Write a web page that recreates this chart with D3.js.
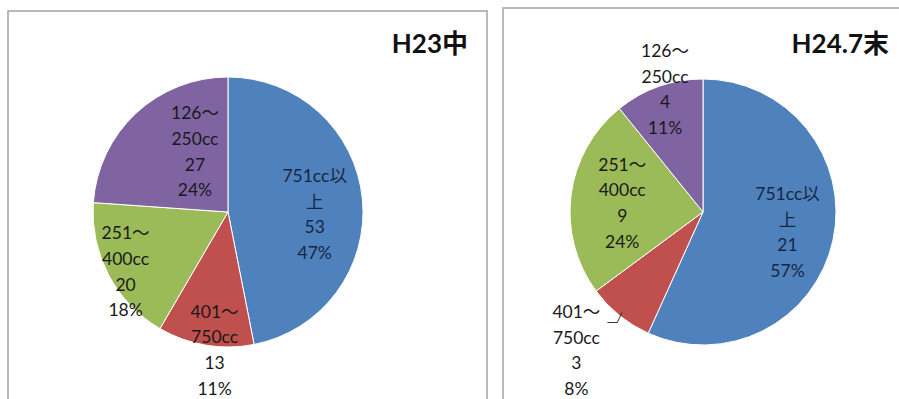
<!DOCTYPE html>
<html>
<head>
<meta charset="utf-8">
<script src="https://cdn.jsdelivr.net/npm/d3@7"></script>
<style>
  html, body { margin: 0; padding: 0; background: #fff; }
  svg { display: block; }
</style>
</head>
<body>
<svg id="chart" width="899" height="399"></svg>
<script>
// ---- data ----
const categories = ["751cc以上", "401～750cc", "251～400cc", "126～250cc"];
const titles = ["H23中", "H24.7末"];
const valuesH23 = [53, 13, 20, 27];
const valuesH24 = [21, 3, 9, 4];
const pctH23 = ["47%", "11%", "18%", "24%"];
const pctH24 = ["57%", "8%", "24%", "11%"];
const colors = ["#4F81BD", "#C0504D", "#9BBB59", "#8064A2"];

// ---- layout ----
const panels = [
  { title: titles[0], values: valuesH23, pct: pctH23,
    box: { x: 8, y: 11, w: 479, h: 420 }, cx: 228, cy: 212, r: 135, titleX: 468,
    lab: [{ k: 0.66, dx: -2, dy: 11 }, { k: 1.0, dx: 9, dy: 5 }, { k: 0.85, dx: -1, dy: 6 }, { k: 0.5, dx: 13, dy: -11 }],
    leader: [] },
  { title: titles[1], values: valuesH24, pct: pctH24,
    box: { x: 503, y: 8, w: 420, h: 420 }, cx: 703, cy: 212, r: 133, titleX: 889,
    lab: [{ k: 0.65, dx: 0, dy: 2 }, { k: 1.3, dx: -18, dy: 4 }, { k: 0.62, dx: 1, dy: 1.5 }, { k: 0.97, dx: 5, dy: -1 }],
    leader: [1] }
];

const svg = d3.select("#chart");
const lineH = 25.7;

function wrap(s) {
  const i = s.indexOf("～");
  if (i >= 0) return [s.slice(0, i + 1), s.slice(i + 1)];
  return [s.slice(0, -1), s.slice(-1)];
}

panels.forEach(p => {
  const g = svg.append("g");
  g.append("rect")
    .attr("x", p.box.x).attr("y", p.box.y)
    .attr("width", p.box.w).attr("height", p.box.h)
    .attr("fill", "#fff").attr("stroke", "#a8a8a8").attr("stroke-width", 1.6);

  g.append("text")
    .attr("x", p.titleX).attr("y", 53)
    .attr("text-anchor", "end")
    .attr("font-family", "Lato, 'Noto Sans CJK JP', sans-serif")
    .attr("font-weight", "bold").attr("font-size", 26)
    .attr("fill", "#111")
    .text(p.title);

  const pie = d3.pie().sort(null).startAngle(0).endAngle(2 * Math.PI);
  const arcs = pie(p.values);
  const arc = d3.arc().innerRadius(0).outerRadius(p.r);

  const pg = g.append("g").attr("transform", `translate(${p.cx},${p.cy})`);
  pg.selectAll("path.slice").data(arcs).join("path")
    .attr("class", "slice")
    .attr("d", arc)
    .attr("fill", (d, i) => colors[i])
    .attr("stroke", "#fff").attr("stroke-width", 1);

  arcs.forEach((d, i) => {
    const L = p.lab[i];
    const la = d3.arc().innerRadius(p.r * L.k).outerRadius(p.r * L.k);
    const c = la.centroid(d);
    const lx = c[0] + L.dx, ly = c[1] + L.dy;
    const lines = wrap(categories[i]).concat([String(p.values[i]), p.pct[i]]);
    const t = pg.append("text")
      .attr("text-anchor", "middle")
      .attr("font-family", "Lato, 'Noto Sans CJK JP', sans-serif")
      .attr("font-size", 17.5)
      .attr("fill", i === 0 ? "#172643" : "#1a1a1a");
    lines.forEach((s, j) => {
      t.append("tspan")
        .attr("x", lx)
        .attr("y", ly + (j - (lines.length - 1) / 2) * lineH)
        .attr("dy", "0.35em")
        .text(s);
    });
    if (p.leader.includes(i)) {
      const ea = d3.arc().innerRadius(p.r * 0.97).outerRadius(p.r * 0.97).centroid(d);
      const sx = lx + 31, sy = ly - 28;
      pg.append("path")
        .attr("d", `M${sx},${sy}L${sx + 10},${sy}L${ea[0]},${ea[1]}`)
        .attr("fill", "none").attr("stroke", "#333").attr("stroke-width", 1);
    }
  });
});
</script>
</body>
</html>
